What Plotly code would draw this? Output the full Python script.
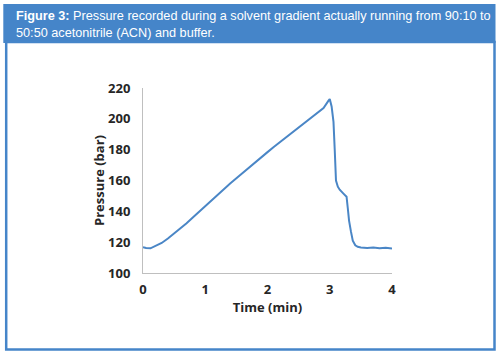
import plotly.graph_objects as go

# Data
time_min = [0, 0.05, 0.12, 0.2, 0.3, 0.4, 0.5, 0.6, 0.7, 0.8, 0.9, 1.0, 1.1, 1.2,
            1.3, 1.4, 1.5, 1.6, 1.7, 1.8, 1.9, 2.0, 2.1, 2.2, 2.3, 2.4, 2.5, 2.6,
            2.7, 2.8, 2.9, 2.98, 3.0, 3.03, 3.06, 3.08, 3.10, 3.13, 3.16, 3.22,
            3.27, 3.29, 3.31, 3.34, 3.37, 3.41, 3.45, 3.5, 3.6, 3.7, 3.8, 3.9, 4.0]
pressure_bar = [116.8, 116.2, 116.0, 117.5, 119.5, 122.4, 125.6, 128.8, 132.3, 136.0,
                139.7, 143.4, 147.2, 151.0, 154.5, 158.1, 161.4, 164.9, 168.2, 171.8,
                175.0, 178.4, 181.7, 184.8, 188.0, 191.1, 194.0, 197.3, 200.4, 203.6,
                207.0, 211.8, 212.8, 208.0, 198.0, 180.0, 160.0, 156.0, 154.0, 151.5,
                149.5, 142.0, 134.0, 127.0, 121.0, 118.0, 117.0, 116.6, 116.2, 116.5,
                116.0, 116.3, 115.9]

x_ticks = [0, 1, 2, 3, 4]
y_ticks = [100, 120, 140, 160, 180, 200, 220]

title_bold = "Figure 3:"
title_line1 = " Pressure recorded during a solvent gradient actually running from 90:10 to"
title_line2 = "50:50 acetonitrile (ACN) and buffer."

W, H = 500, 354
L, R, T, B = 143, 108, 88, 81
PW, PH = W - L - R, H - T - B

def px(x):
    return (x - L) / PW

def py(y):
    return (H - B - y) / PH

BLUE = "#4585C9"
LINE = "#4A86C6"

fig = go.Figure()
fig.add_trace(go.Scatter(x=time_min, y=pressure_bar, mode="lines",
                         line=dict(color=LINE, width=2), showlegend=False))

fig.update_layout(
    width=W, height=H,
    margin=dict(l=L, r=R, t=T, b=B),
    paper_bgcolor="white", plot_bgcolor="white",
    font=dict(family="Open Sans, Liberation Sans, sans-serif", color="#262626"),
    xaxis=dict(range=[0, 4], tickvals=x_ticks, showgrid=False, zeroline=False,
               showline=True, linecolor="#BFBFBF", linewidth=1, ticks="",
               tickfont=dict(size=13, weight="bold", color="#262626"),
               ticklabelstandoff=4,
               title=dict(text="Time (min)", font=dict(size=13, weight="bold", color="#262626"),
                          standoff=6)),
    yaxis=dict(range=[100, 220], tickvals=y_ticks, showgrid=False, zeroline=False,
               showline=True, linecolor="#BFBFBF", linewidth=1, ticks="",
               tickfont=dict(size=13, weight="bold", color="#262626"),
               ticklabelstandoff=9,
               title=dict(text="Pressure (bar)", font=dict(size=13, weight="bold", color="#262626"),
                          standoff=0)),
    shapes=[
        dict(type="rect", xref="paper", yref="paper", layer="below",
             x0=px(3.3), x1=px(495.5), y0=py(4), y1=py(43),
             fillcolor=BLUE, line=dict(width=0)),
        dict(type="rect", xref="paper", yref="paper", layer="below",
             x0=px(6.2), x1=px(494.5), y0=py(42), y1=py(349.5),
             fillcolor="rgba(0,0,0,0)", line=dict(color=BLUE, width=2.5)),
    ],
    annotations=[
        dict(xref="paper", yref="paper", x=px(14), y=py(16), xanchor="left", yanchor="middle",
             text="<b>" + title_bold + "</b>" + title_line1, showarrow=False,
             font=dict(family="Liberation Sans, Arial, sans-serif", size=12.7, color="white")),
        dict(xref="paper", yref="paper", x=px(14), y=py(33), xanchor="left", yanchor="middle",
             text=title_line2, showarrow=False,
             font=dict(family="Liberation Sans, Arial, sans-serif", size=12.7, color="white")),
    ],
)

fig.write_html("out.html")
